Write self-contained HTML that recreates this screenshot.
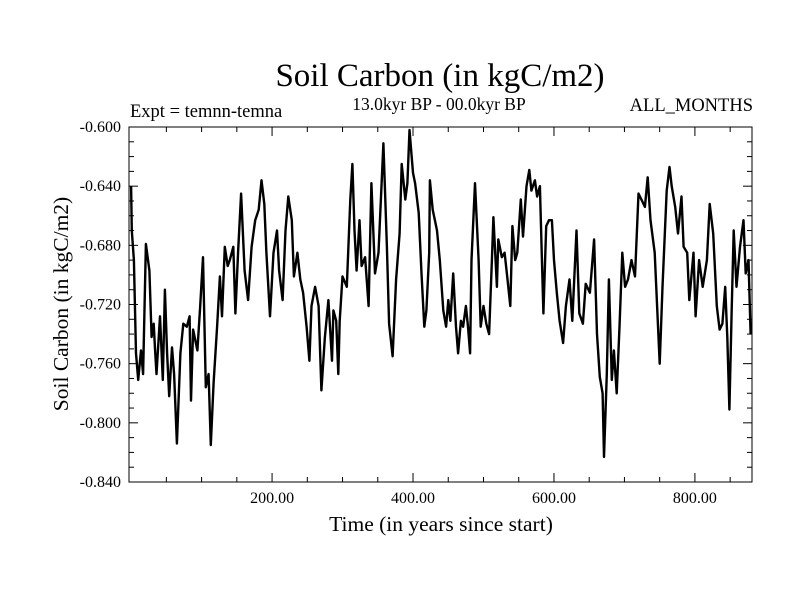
<!DOCTYPE html>
<html><head><meta charset="utf-8"><style>
body{margin:0;background:#fff}
svg text{font-family:"Liberation Serif",serif;fill:#000}
</style></head><body>
<svg id="chart" width="800" height="600" viewBox="0 0 800 600" xmlns="http://www.w3.org/2000/svg">
<text x="440" y="86" font-size="33" text-anchor="middle">Soil Carbon (in kgC/m2)</text>
<text x="130" y="117" font-size="18.5">Expt = temnn-temna</text>
<text x="439" y="110" font-size="17.5" text-anchor="middle">13.0kyr BP - 00.0kyr BP</text>
<text x="753" y="111" font-size="18.5" text-anchor="end">ALL_MONTHS</text>
<text x="441" y="531" font-size="21.5" text-anchor="middle">Time (in years since start)</text>
<text transform="translate(68,304) rotate(-90)" font-size="21.5" text-anchor="middle">Soil Carbon (in kgC/m2)</text>
<g id="axes"></g>
<path id="series" fill="none" stroke="#000" stroke-width="2.4" stroke-linejoin="round"/>
<rect x="129" y="127" width="623" height="355" fill="none" stroke="#000" stroke-width="1"/>
</svg>
<script>
const years=[0,1,4,7,10,14,17,21,26,29,32,34,36,41,45,48,51,54,58,61,65,70,74,79,83,85,88,94,98,102,106,110,113,117,122,126,129,133,137,140,145,148,152,156,161,166,171,176,181,185,189,192,197,202,207,210,215,219,223,228,231,236,240,244,249,253,256,261,266,270,275,280,285,287,291,294,296,300,306,311,314,317,320,324,327,332,337,341,346,351,358,363,366,371,376,381,384,389,392,395,400,403,408,412,416,419,423,
424,428,431,434,438,443,447,450,453,457,461,464,468,471,475,478,481,483,488,493,496,500,504,508,512,514,519,521,526,530,534,538,541,545,548,553,556,561,565,568,573,576,580,585,589,593,597,600,604,608,613,617,622,626,632,636,641,645,651,657,661,665,669,671,675,678,682,685,689,693,697,701,705,710,715,720,724,729,733,737,743,750,754,760,764,767,772,776,781,784,789,792,798,801,806,811,817,821,826,831,835,839,843,846,849,852,855,859,864,869,872,876,879];
const carbon=[-0.640,-0.670,-0.690,-0.753,-0.771,-0.751,-0.767,-0.679,-0.697,-0.742,-0.733,-0.751,-0.767,-0.728,-0.771,-0.710,-0.753,-0.782,-0.749,-0.767,-0.814,-0.753,-0.733,-0.735,-0.728,-0.785,-0.737,-0.751,-0.721,-0.688,-0.776,-0.767,-0.815,-0.773,-0.735,-0.701,-0.728,-0.681,-0.694,-0.690,-0.681,-0.726,-0.683,-0.645,-0.697,-0.717,-0.681,-0.663,-0.656,-0.636,-0.652,-0.685,-0.728,-0.685,-0.670,-0.697,-0.717,-0.670,-0.647,-0.663,-0.701,-0.685,-0.703,-0.712,-0.735,-0.758,-0.721,-0.708,-0.721,-0.778,-0.742,-0.717,-0.758,-0.724,-0.731,-0.767,-0.731,-0.701,-0.708,-0.649,-0.625,-0.670,-0.697,-0.663,-0.694,-0.688,-0.721,-0.638,-0.699,-0.685,-0.611,-0.681,-0.733,-0.755,-0.703,-0.672,-0.625,-0.649,-0.638,-0.602,-0.631,-0.638,-0.658,-0.699,-0.735,-0.724,-0.685,
-0.636,-0.656,-0.663,-0.670,-0.690,-0.724,-0.735,-0.717,-0.731,-0.699,-0.735,-0.753,-0.731,-0.735,-0.721,-0.735,-0.753,-0.690,-0.638,-0.690,-0.735,-0.721,-0.733,-0.740,-0.690,-0.661,-0.708,-0.676,-0.688,-0.685,-0.703,-0.721,-0.667,-0.690,-0.685,-0.649,-0.674,-0.640,-0.629,-0.643,-0.636,-0.647,-0.640,-0.726,-0.667,-0.663,-0.663,-0.690,-0.712,-0.731,-0.746,-0.721,-0.703,-0.731,-0.670,-0.726,-0.733,-0.706,-0.712,-0.676,-0.740,-0.769,-0.780,-0.823,-0.767,-0.703,-0.771,-0.751,-0.780,-0.735,-0.685,-0.708,-0.703,-0.690,-0.701,-0.645,-0.649,-0.654,-0.634,-0.663,-0.685,-0.760,-0.708,-0.643,-0.627,-0.640,-0.654,-0.672,-0.647,-0.681,-0.685,-0.717,-0.685,-0.728,-0.690,-0.708,-0.690,-0.652,-0.672,-0.721,-0.737,-0.733,-0.708,-0.742,-0.791,-0.726,-0.670,-0.708,-0.681,-0.663,-0.699,-0.690,-0.740];
const yTicks=[-0.600,-0.640,-0.680,-0.720,-0.760,-0.800,-0.840];
const xTicks=[200,400,600,800];
const L=129,R=752,T=127,B=482,X0=-3,X1=881,Y0=-0.840,Y1=-0.600;
const xs=v=>L+(v-X0)/(X1-X0)*(R-L);
const ys=v=>B-(v-Y0)/(Y1-Y0)*(B-T);
const NS='http://www.w3.org/2000/svg';
const ax=document.getElementById('axes');
function line(x1,y1,x2,y2){const l=document.createElementNS(NS,'line');l.setAttribute('x1',x1);l.setAttribute('y1',y1);l.setAttribute('x2',x2);l.setAttribute('y2',y2);l.setAttribute('stroke','#000');l.setAttribute('stroke-width','1');


ax.appendChild(l);}
function text(x,y,s,anchor,size){const t=document.createElementNS(NS,'text');t.setAttribute('x',x);t.setAttribute('y',y);t.setAttribute('text-anchor',anchor);t.setAttribute('font-size',size);t.textContent=s;


ax.appendChild(t);}
for(let k=0;k<=24;k++){const v=Y1-k*0.01,y=ys(v),len=(k%4===0)?9:5;line(L,y,L+len,y);line(R,y,R-len,y);}
yTicks.forEach(v=>text(121,ys(v)+5,v.toFixed(3),'end',16));
for(let v=50;v<X1;v+=50){const x=xs(v),len=(v%200===0)?9:5;line(x,T,x,T+len);line(x,B,x,B-len);}
xTicks.forEach(v=>text(xs(v),503,v.toFixed(2),'middle',16));
let d='';years.forEach((yr,i)=>{d+=(i?'L':'M')+xs(yr).toFixed(1)+','+ys(carbon[i]).toFixed(1);});
document.getElementById('series').setAttribute('d',d);
</script>
</body></html>
